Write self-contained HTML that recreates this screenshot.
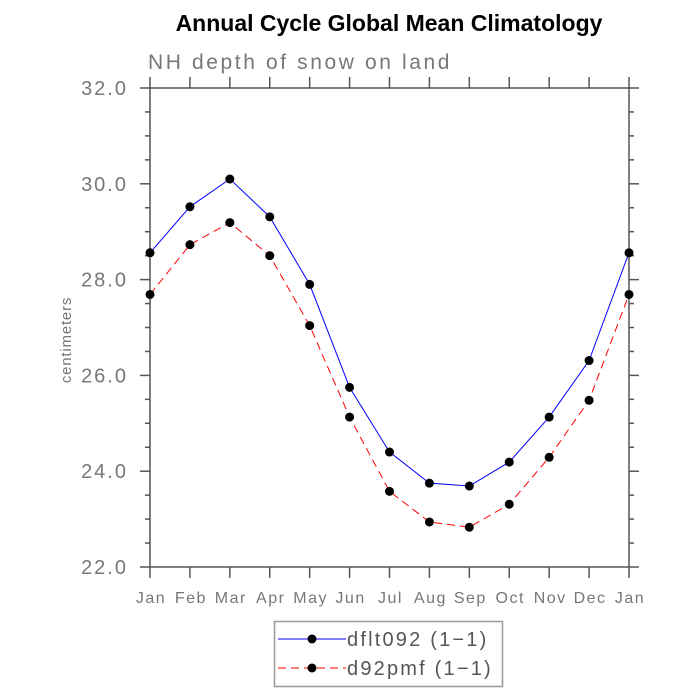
<!DOCTYPE html>
<html><head><meta charset="utf-8"><style>
body{margin:0;background:#fff;}
svg{display:block;font-family:"Liberation Sans",sans-serif;}
</style></head><body>
<svg id="chart" width="700" height="700">
<text x="389" y="31" text-anchor="middle" font-size="23" font-weight="bold" fill="#000">Annual Cycle Global Mean Climatology</text>
<text x="148" y="69" font-size="21" fill="#777" letter-spacing="2.6">NH depth of snow on land</text>
<text transform="translate(71,340) rotate(-90)" text-anchor="middle" font-size="15" fill="#777" letter-spacing="0.8">centimeters</text>
<g id="axes"></g>
<g id="series"></g>
<rect x="274.5" y="621.5" width="228" height="65" fill="#fff" stroke="#999" stroke-width="1.5"/>
<g>
<line x1="278" y1="639" x2="346" y2="639" stroke="#00f" stroke-width="1"/>
<circle cx="312" cy="639" r="4.5" fill="#000"/>
<text x="347" y="646" font-size="20" fill="#555" letter-spacing="2.2">dflt092 (1−1)</text>
</g>
<g>
<line x1="278" y1="668" x2="346" y2="668" stroke="#f00" stroke-width="1" stroke-dasharray="8,5"/>
<circle cx="312" cy="668" r="4.5" fill="#000"/>
<text x="347" y="675" font-size="20" fill="#555" letter-spacing="2.2">d92pmf (1−1)</text>
</g>
</svg>
<script>
const months=["Jan","Feb","Mar","Apr","May","Jun","Jul","Aug","Sep","Oct","Nov","Dec","Jan"];
const dflt092=[28.56,29.52,30.10,29.31,27.90,25.75,24.40,23.75,23.69,24.19,25.13,26.31,28.56];
const d92pmf=[27.69,28.73,29.19,28.50,27.04,25.13,23.58,22.94,22.83,23.31,24.29,25.48,27.69];
const yTicks=[22,24,26,28,30,32];
const yMin=22,yMax=32;
const X0=150,X1=629,Y0=567,Y1=88;
const NS="http://www.w3.org/2000/svg";
function xs(i){return X0+(X1-X0)*i/(months.length-1);}
function ys(v){return Y0-(v-yMin)/(yMax-yMin)*(Y0-Y1);}
function mk(tag,attrs,parent){const e=document.createElementNS(NS,tag);for(const k in attrs)e.setAttribute(k,attrs[k]);parent.appendChild(e);return e;}
const ax=document.getElementById('axes');
const ac="#555";
const frame=mk('rect',{x:X0,y:Y1,width:X1-X0,height:Y0-Y1,fill:'none',stroke:ac,'stroke-width':1.5},ax);


for(let v=yMin;v<=yMax+1e-9;v+=0.5){
  const major=Math.abs(v-Math.round(v/2)*2)<1e-9;
  const L=major?10:5;const y=ys(v);
  const t1=mk('line',{x1:X0-L,y1:y,x2:X0,y2:y,stroke:ac,'stroke-width':1.5},ax);
  
  
  const t2=mk('line',{x1:X1,y1:y,x2:X1+L,y2:y,stroke:ac,'stroke-width':1.5},ax);
  
  
}
yTicks.forEach(v=>{
  const t=mk('text',{x:X0-22,y:ys(v)+7,'text-anchor':'end','font-size':20,fill:'#777','letter-spacing':2},ax);
  t.textContent=v.toFixed(1);
  
  
});
months.forEach((m,i)=>{
  const x=xs(i);
  const a=mk('line',{x1:x,y1:Y0,x2:x,y2:Y0+11,stroke:ac,'stroke-width':1.5},ax);
  
  
  const b=mk('line',{x1:x,y1:Y1-11,x2:x,y2:Y1,stroke:ac,'stroke-width':1.5},ax);
  
  
  const t=mk('text',{x:x+1,y:603,'text-anchor':'middle','font-size':16,fill:'#777','letter-spacing':1.5},ax);
  t.textContent=m;
  
  
});
const sg=document.getElementById('series');
function draw(vals,color,dash,name){
  const p=mk('polyline',{points:vals.map((v,i)=>xs(i)+','+ys(v)).join(' '),fill:'none',stroke:color,'stroke-width':1,'stroke-dasharray':dash},sg);
  
  
  vals.forEach((v,i)=>{
    const c=mk('circle',{cx:xs(i),cy:ys(v),r:4.5,fill:'#000'},sg);
    
    
  });
}
draw(dflt092,'#00f','none','dflt092');
draw(d92pmf,'#f00','8,5','d92pmf');
</script>
</body></html>
